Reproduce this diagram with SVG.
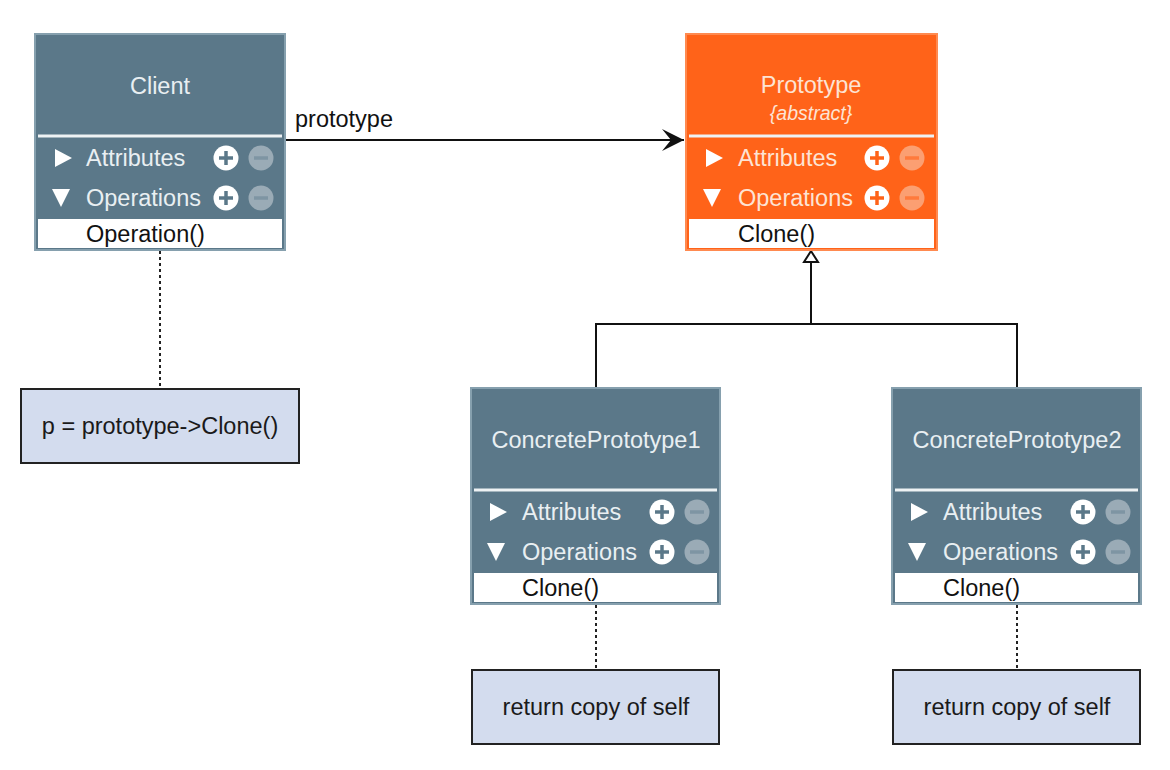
<svg xmlns="http://www.w3.org/2000/svg" width="1170" height="770" viewBox="0 0 1170 770">
<style>
text{font-family:"Liberation Sans",Arial,sans-serif}
.box{fill:#5b7889;stroke:#86a0ae;stroke-width:2}
.obox{fill:#ff6319;stroke:#ff8a50;stroke-width:2}
.sep{stroke:#eef2f4;stroke-width:3}
.title{fill:#e9eff2;font-size:23.5px;text-anchor:middle}
.otitle{fill:#fde3d4;font-size:23.5px;text-anchor:middle}
.abs{fill:#fde3d4;font-size:19.5px;font-style:italic;text-anchor:middle}
.row{fill:#e9eff2;font-size:23.5px}
.orow{fill:#fde3d4;font-size:23.5px}
.tri{fill:#ffffff}
.op{fill:#ffffff}
.optext{fill:#111;font-size:23.5px}
.plus{fill:#ffffff}
.pl{stroke:#5b7889;stroke-width:3.5}
.opl{stroke:#ff6319;stroke-width:3.5}
.minus{fill:#9aabb6}
.ominus{fill:#fb9f72}
.ml{stroke:#7e95a3;stroke-width:3.5}
.oml{stroke:#ff7a3c;stroke-width:3.5}
.note{fill:#d3dcee;stroke:#222;stroke-width:2}
.ntext{fill:#1a1a1a;font-size:23.5px;text-anchor:middle}
.line{stroke:#111;stroke-width:2;fill:none}
.dot{stroke:#222;stroke-width:2;stroke-dasharray:3,3;fill:none}
.lbl{fill:#111;font-size:23.5px}
</style>
<defs>
<marker id="arr" markerWidth="24" markerHeight="22" refX="22" refY="11" orient="auto" markerUnits="userSpaceOnUse">
<path d="M0,0 L22,11 L0,22 L9,11 Z" fill="#111"/>
</marker>
<g id="plusI"><circle r="12.5" class="plus"/><line x1="-7" y1="0" x2="7" y2="0" class="pl"/><line x1="0" y1="-7" x2="0" y2="7" class="pl"/></g>
<g id="minusI"><circle r="12.5" class="minus"/><line x1="-7" y1="0" x2="7" y2="0" class="ml"/></g>
<g id="oplusI"><circle r="12.5" class="plus"/><line x1="-7" y1="0" x2="7" y2="0" class="opl"/><line x1="0" y1="-7" x2="0" y2="7" class="opl"/></g>
<g id="ominusI"><circle r="12.5" class="ominus"/><line x1="-7" y1="0" x2="7" y2="0" class="oml"/></g>
</defs>

<g id="connectors">
<line x1="286" y1="140" x2="684" y2="140" class="line" marker-end="url(#arr)"/>
<text x="295" y="127" class="lbl">prototype</text>
<polyline points="596,388 596,324 1017,324 1017,388" class="line"/>
<line x1="811" y1="324" x2="811" y2="262" class="line"/>
<polygon points="811,251 804,262 818,262" fill="#fff" stroke="#111" stroke-width="2"/>
<line x1="160" y1="251" x2="160" y2="389" class="dot"/>
<line x1="596" y1="605" x2="596" y2="670" class="dot"/>
<line x1="1017" y1="605" x2="1017" y2="670" class="dot"/>
</g>

<g id="client">
<rect x="35" y="34" width="250" height="216" class="box"/>
<text x="160" y="94" class="title">Client</text>
<line x1="38" y1="136" x2="282" y2="136" class="sep"/>
<polygon points="55,149 72,158 55,167" class="tri"/>
<text x="86" y="166" class="row">Attributes</text>
<use href="#plusI" x="226" y="158"/><use href="#minusI" x="261" y="158"/>
<polygon points="52,189 70,189 61,207" class="tri"/>
<text x="86" y="206" class="row">Operations</text>
<use href="#plusI" x="226" y="198"/><use href="#minusI" x="261" y="198"/>
<rect x="38" y="219" width="244" height="29" class="op"/>
<text x="86" y="242" class="optext">Operation()</text>
</g>

<g id="prototype">
<rect x="686" y="34" width="251" height="216" class="obox"/>
<text x="811" y="93" class="otitle">Prototype</text>
<text x="811" y="120" class="abs">{abstract}</text>
<line x1="689" y1="136" x2="934" y2="136" class="sep"/>
<polygon points="706,149 723,158 706,167" class="tri"/>
<text x="738" y="166" class="orow">Attributes</text>
<use href="#oplusI" x="877" y="158"/><use href="#ominusI" x="912" y="158"/>
<polygon points="703,189 721,189 712,207" class="tri"/>
<text x="738" y="206" class="orow">Operations</text>
<use href="#oplusI" x="877" y="198"/><use href="#ominusI" x="912" y="198"/>
<rect x="689" y="219" width="245" height="29" class="op"/>
<text x="738" y="242" class="optext">Clone()</text>
</g>

<g id="concrete1">
<rect x="471" y="388" width="249" height="216" class="box"/>
<text x="596" y="448" class="title">ConcretePrototype1</text>
<line x1="474" y1="490" x2="717" y2="490" class="sep"/>
<polygon points="490,503 507,512 490,521" class="tri"/>
<text x="522" y="520" class="row">Attributes</text>
<use href="#plusI" x="662" y="512"/><use href="#minusI" x="697" y="512"/>
<polygon points="487,543 505,543 496,561" class="tri"/>
<text x="522" y="560" class="row">Operations</text>
<use href="#plusI" x="662" y="552"/><use href="#minusI" x="697" y="552"/>
<rect x="474" y="573" width="243" height="29" class="op"/>
<text x="522" y="596" class="optext">Clone()</text>
</g>

<g id="concrete2">
<rect x="892" y="388" width="249" height="216" class="box"/>
<text x="1017" y="448" class="title">ConcretePrototype2</text>
<line x1="895" y1="490" x2="1138" y2="490" class="sep"/>
<polygon points="911,503 928,512 911,521" class="tri"/>
<text x="943" y="520" class="row">Attributes</text>
<use href="#plusI" x="1083" y="512"/><use href="#minusI" x="1118" y="512"/>
<polygon points="908,543 926,543 917,561" class="tri"/>
<text x="943" y="560" class="row">Operations</text>
<use href="#plusI" x="1083" y="552"/><use href="#minusI" x="1118" y="552"/>
<rect x="895" y="573" width="243" height="29" class="op"/>
<text x="943" y="596" class="optext">Clone()</text>
</g>

<g id="note-client">
<rect x="21" y="389" width="278" height="74" class="note"/>
<text x="160" y="434" class="ntext">p = prototype-&gt;Clone()</text>
</g>

<g id="note-cp1">
<rect x="472" y="670" width="247" height="74" class="note"/>
<text x="596" y="715" class="ntext">return copy of self</text>
</g>

<g id="note-cp2">
<rect x="893" y="670" width="247" height="74" class="note"/>
<text x="1017" y="715" class="ntext">return copy of self</text>
</g>
</svg>
